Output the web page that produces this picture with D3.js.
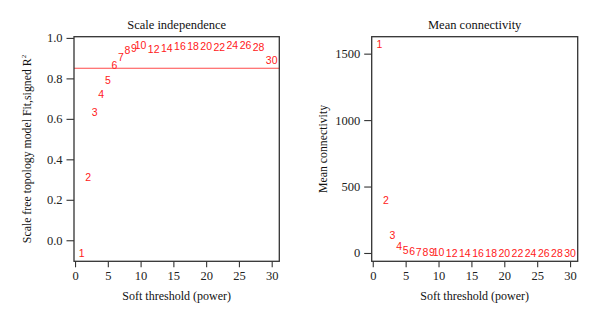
<!DOCTYPE html>
<html>
<head>
<meta charset="utf-8">
<script src="https://cdn.jsdelivr.net/npm/d3@7"></script>
<style>
  html, body { margin: 0; padding: 0; background: #fff; }
  svg { display: block; }
</style>
</head>
<body>
<svg id="chart" width="600" height="326"></svg>
<script>
// ---- Data ----
const powers = [1,2,3,4,5,6,7,8,9,10,12,14,16,18,20,22,24,26,28,30];
const signedR2 = [-0.063,0.312,0.633,0.724,0.79,0.867,0.905,0.937,0.949,0.962,0.946,0.949,0.958,0.958,0.957,0.954,0.965,0.965,0.954,0.892];
const meanConnectivity = [1571,395,131,48,18,10,6,4,3,2,1.2,0.8,0.5,0.4,0.3,0.2,0.15,0.1,0.08,0.06];
const xTicks = [0,5,10,15,20,25,30];
const r2Ticks = [0.0,0.2,0.4,0.6,0.8,1.0];
const mcTicks = [0,500,1000,1500];
const cutoff = 0.85;
const titles = ["Scale independence", "Mean connectivity"];
const xLabel = "Soft threshold (power)";

// ---- Layout ----
const svg = d3.select("#chart");
const serif = "'Liberation Serif', 'DejaVu Serif', serif";
const sans = "'Liberation Sans', Arial, sans-serif";
const axisColor = "#333";
const red = "#ff2020";

function panel(x0, x1, yDomain, yTicks, yFmt, values, opts) {
  const top = 36.7, bottom = 261.3;
  const x = d3.scaleLinear().domain([-0.16, 31.16]).range([x0, x1]);
  const y = d3.scaleLinear().domain(yDomain).range([bottom, top]);
  const g = svg.append("g");

  // x axis
  const xa = g.append("g").attr("transform", `translate(0,${bottom})`)
    .call(d3.axisBottom(x).tickValues(xTicks).tickSize(6).tickPadding(4).tickFormat(d3.format("d")));
  xa.select(".domain").remove();
  xa.selectAll("line").attr("stroke", axisColor).attr("stroke-width", 1.1);
  xa.selectAll("text").attr("font-family", serif).attr("font-size", 12.5).attr("fill", "#222");

  // y axis
  const ya = g.append("g").attr("transform", `translate(${x0},0)`)
    .call(d3.axisLeft(y).tickValues(yTicks).tickSize(7.5).tickPadding(4).tickFormat(yFmt));
  ya.select(".domain").remove();
  ya.selectAll("line").attr("stroke", axisColor).attr("stroke-width", 1.1);
  ya.selectAll("text").attr("font-family", serif).attr("font-size", 12.5).attr("fill", "#222");

  // cutoff line
  if (opts.hline !== undefined) {
    g.append("line")
      .attr("x1", x0).attr("x2", x1)
      .attr("y1", y(opts.hline)).attr("y2", y(opts.hline))
      .attr("stroke", "#ff4a4a").attr("stroke-width", 1.2);
  }

  // labels as points
  g.append("g").selectAll("text").data(powers).join("text")
    .attr("x", (d) => x(d))
    .attr("y", (d, i) => y(values[i]))
    .attr("dy", "0.36em")
    .attr("text-anchor", "middle")
    .attr("font-family", sans)
    .attr("font-size", 10.5)
    .attr("fill", red)
    .text((d) => d);

  // box
  g.append("rect")
    .attr("x", x0).attr("y", top)
    .attr("width", x1 - x0).attr("height", bottom - top)
    .attr("fill", "none").attr("stroke", axisColor).attr("stroke-width", 1.3);

  // title
  g.append("text")
    .attr("x", (x0 + x1) / 2).attr("y", 29)
    .attr("text-anchor", "middle")
    .attr("font-family", serif).attr("font-size", 12.5).attr("fill", "#111")
    .text(opts.title);

  // x label
  g.append("text")
    .attr("x", (x0 + x1) / 2).attr("y", 300)
    .attr("text-anchor", "middle")
    .attr("font-family", serif).attr("font-size", 12).attr("fill", "#111")
    .text(xLabel);

  // y label
  const yl = g.append("text")
    .attr("transform", `translate(${opts.ylabX},${(top + bottom) / 2}) rotate(-90)`)
    .attr("text-anchor", "middle")
    .attr("font-family", serif).attr("font-size", 11.8).attr("fill", "#111");
  yl.append("tspan").text(opts.ylab);
  if (opts.sup) {
    yl.append("tspan").attr("font-size", 7).attr("dy", -5).text(opts.sup);
  }
}

panel(74, 279.3, [-0.104, 1.006], r2Ticks, d3.format(".1f"), signedR2,
  { hline: cutoff, title: titles[0], ylab: "Scale free topology model Fit,signed R", sup: "2", ylabX: 30.5 });
panel(371.7, 577.7, [-62.6, 1627.6], mcTicks, d3.format("d"), meanConnectivity,
  { title: titles[1], ylab: "Mean connectivity", ylabX: 327 });
</script>
</body>
</html>
